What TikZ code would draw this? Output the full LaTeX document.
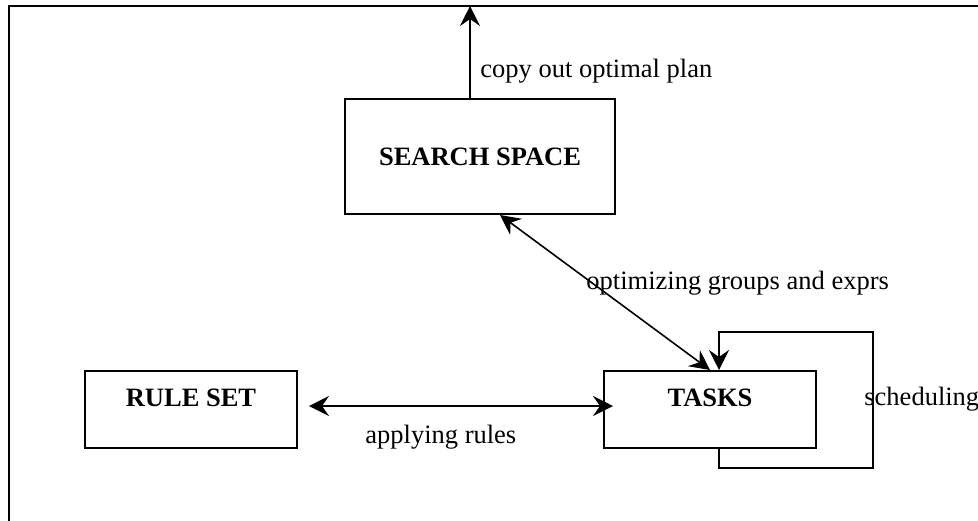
\documentclass[tikz,border=0pt]{standalone}
\usepackage{fontspec}
\setmainfont{Liberation Serif}
\usetikzlibrary{arrows.meta}

\begin{document}
\begin{tikzpicture}[x=0.5pt, y=-0.5pt,
    every node/.style={font=\fontsize{13.25}{16}\selectfont, inner sep=0pt},
    box/.style={draw, line width=1pt, minimum width=106pt, minimum height=38.5pt},
    title/.style={font=\fontsize{13.25}{16}\selectfont\bfseries},
    lbl/.style={anchor=base west},
    tip/.tip={Stealth[length=10pt, width=10pt, inset=3.5pt]},
    flow/.style={line width=0.8pt, -tip},
    both/.style={line width=0.8pt, tip-tip}]
    \useasboundingbox (0, 0) rectangle (978, 520);
    \clip (0, 0) rectangle (978, 520);
    \draw [line width=1pt] (9, 6) rectangle (995, 535);
    \coordinate (top) at (470, 6);
    \node [box, minimum width=135pt, minimum height=57.5pt] (search) at (480, 156.5) {};
    \node [box] (rules) at (191, 409.5) {};
    \node [box] (tasks) at (710, 409.5) {};
    \node [title] (search-t) at (480, 157) {SEARCH SPACE};
    \node [title] (rules-t) at (191, 398) {RULE SET};
    \node [title] (tasks-t) at (710, 398) {TASKS};
    \draw [flow] (search.north -| top) -- (top);
    \draw [both] ([xshift=10pt]search.south) -- (tasks.north);
    \draw [both] ([xshift=5.5pt, yshift=1.75pt]rules.east) -- ([xshift=5pt, yshift=1.75pt]tasks.west);
    \draw [flow, line width=1pt] ([xshift=4.5pt]tasks.south) -- ++(0, 19) -| (873, 332) -| ([xshift=4.5pt]tasks.north);
    \node [lbl] (copy) at (480, 77) {copy out optimal plan};
    \node [lbl] (optim) at (586, 289) {optimizing groups and exprs};
    \node [lbl] (apply) at (365, 443) {applying rules};
    \node [lbl] (sched) at (864, 405) {scheduling};
\end{tikzpicture}
\end{document}
